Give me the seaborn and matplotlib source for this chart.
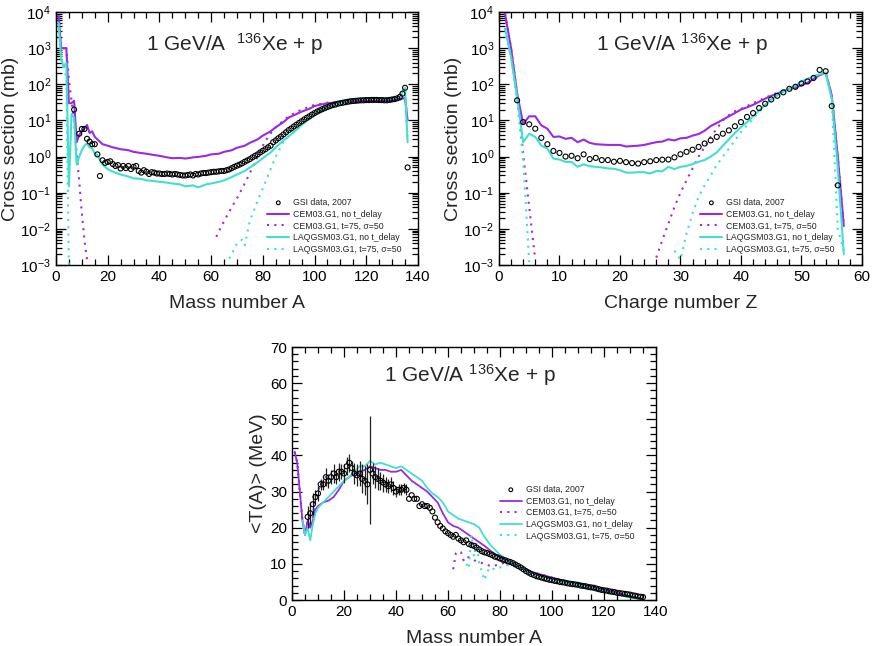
import matplotlib
matplotlib.use("Agg")
import matplotlib.pyplot as plt
from matplotlib.ticker import MultipleLocator, LogLocator, NullFormatter
import seaborn as sns

sns.set_style("ticks")
plt.rcParams['font.family'] = ['Liberation Sans', 'DejaVu Sans']
plt.rcParams['mathtext.default'] = 'regular'

PURPLE = "#9a2be2"
CYAN = "#40e0d0"
DOT = (0, (1, 2.5))

LBL_GSI = "GSI data, 2007"
LBL_CEM = "CEM03.G1, no t_delay"
LBL_CEMT = "CEM03.G1, t=75, σ=50"
LBL_LAQ = "LAQGSM03.G1, no t_delay"
LBL_LAQT = "LAQGSM03.G1, t=75, σ=50"
TITLE = "1 GeV/A $^{136}$Xe + p"
TITLE_WIDE = "1 GeV/A  $^{136}$Xe + p"

# ---------- panel 1: cross section vs mass number A ----------
a_gsi = [7, 9, 10, 11, 12, 13, 14, 15, 16, 17] + list(range(18, 137))
sig_gsi = [20, 4.3, 5.8, 5.8, 3.1, 2.6, 2.2, 2.2, 1.15, 0.29,
           0.79, 0.67, 0.71, 0.74, 0.62, 0.55, 0.58, 0.47, 0.55, 0.48,
           0.55, 0.45, 0.52, 0.55, 0.40, 0.36, 0.42, 0.38, 0.33, 0.37,
           0.36, 0.34, 0.34, 0.33, 0.33, 0.34, 0.33, 0.32, 0.33, 0.32,
           0.31, 0.30, 0.30, 0.31, 0.32, 0.30, 0.33, 0.32, 0.34, 0.35,
           0.35, 0.36, 0.37, 0.38, 0.38, 0.39, 0.40, 0.40, 0.42, 0.44,
           0.48, 0.52, 0.56, 0.60, 0.65, 0.72, 0.78, 0.85, 0.95, 1.05,
           1.15, 1.3, 1.45, 1.6, 1.8, 2.0, 2.5, 2.8, 3.2, 3.6,
           4.1, 4.7, 5.4, 6.0, 6.8, 7.6, 8.5, 9.5, 10.6, 11.8,
           13, 14.5, 16, 17.5, 19, 20.5, 22, 23.5, 25, 26.5,
           27.5, 29, 30, 31, 32, 33, 34, 34.5, 35, 35.5,
           36, 36, 36.5, 36.5, 37, 37, 37, 36.5, 36.5, 36,
           36, 37, 38, 39, 41, 45, 55, 80, 0.5]

a_grid = [1, 2, 3, 4, 5, 6, 7, 8, 9, 10, 11, 12, 13, 14, 15, 16, 18, 20, 22, 25,
          28, 30, 33, 35, 38, 40, 43, 45, 48, 50, 53, 55, 58, 60, 63, 65, 68, 70, 73, 75,
          78, 80, 83, 85, 88, 90, 93, 95, 98, 100, 103, 105, 110, 115, 120, 125, 130, 133, 135, 136]
sig_cem = [8000, 1000, 1000, 1000, 30, 30, 35, 2.5, 4, 5, 6, 7.5, 4.5, 5, 3.5, 3,
           2.2, 2, 1.8, 1.6, 1.5, 1.35,
           1.25, 1.2, 1.1, 1.05, 0.95, 0.9, 0.92, 0.88,
           0.95, 0.98, 1.05, 1.15, 1.2, 1.35, 1.5, 1.75,
           2.0, 2.4, 3.0, 3.8, 5, 6.5, 9, 12,
           15, 17.5, 21, 25, 28, 30,
           32, 34, 35, 35, 36, 38, 42, 10]
sig_laq = [5000, 500, 300, 400, 0.15, 15, 12, 0.6, 1.0, 1.5, 2.0, 2.3, 1.8, 1.7, 1.2, 1.1,
           0.6, 0.45, 0.38, 0.32, 0.28, 0.25,
           0.24, 0.22, 0.21, 0.2, 0.19, 0.18, 0.17, 0.15,
           0.16, 0.14, 0.17, 0.18, 0.2, 0.22, 0.27, 0.32,
           0.4, 0.5, 0.7, 0.9, 1.3, 1.8, 2.8, 3.6,
           5.5, 7.5, 11, 14, 20, 24,
           32, 38, 41, 41, 40, 45, 80, 2.5]

a_cemt_lo = [1, 2, 3, 4, 5, 6, 7, 8, 9, 10, 11, 12]
sig_cemt_lo = [8000, 1000, 1000, 1000, 130, 36, 10, 1.2, 0.2, 0.027, 0.005, 0.0014]
a_cemt_hi = [62, 64, 66, 68, 70, 72, 74, 76, 78, 80, 82, 84, 86, 88, 90,
             93, 95, 98, 100, 103, 105, 110, 115, 120, 125, 130, 133, 135, 136]
sig_cemt_hi = [0.006, 0.012, 0.022, 0.04, 0.07, 0.13, 0.25, 0.5, 1.0, 2.0, 3.5, 5.5, 7.5, 10, 13,
               17, 20, 24, 27, 29, 31, 33, 35, 35, 35, 36, 38, 42, 10]
a_laqt_lo = [1, 2, 3, 4, 5]
sig_laqt_lo = [5000, 500, 300, 150, 0.0008]
a_laqt_hi = [67, 68, 70, 72, 73, 75, 78, 80, 83, 85, 88, 90,
             93, 95, 98, 100, 103, 105, 110, 115, 120, 125, 130, 133, 135, 136]
sig_laqt_hi = [0.0015, 0.002, 0.004, 0.005, 0.0035, 0.017, 0.06, 0.13, 0.45, 1.0, 2.6, 3.6,
               5.5, 7.5, 11, 14, 20, 24, 32, 38, 41, 41, 40, 45, 80, 2.5]

# ---------- panel 2: cross section vs charge number Z ----------
z_gsi = list(range(3, 57))
sigz_gsi = [36, 9, 7.8, 5.9, 3.3, 2.2, 1.43, 1.26, 1.0, 1.05,
            0.9, 1.15, 0.85, 0.92, 0.8, 0.8, 0.72, 0.76, 0.7, 0.66,
            0.64, 0.7, 0.74, 0.8, 0.82, 0.83, 0.95, 1.16, 1.35, 1.55,
            1.85, 2.3, 2.8, 3.5, 4.3, 5.3, 6.9, 9, 12.5, 16,
            22, 29, 38, 48, 60, 75, 85, 105, 120, 150,
            250, 230, 25, 0.16]
z_grid = list(range(1, 58))
sigz_cem = [9000, 1000, 55, 8, 13, 13, 7.3, 5.9, 3.5, 3.6,
            3.1, 3.3, 2.5, 2.95, 2.4, 2.2, 2.15, 2.1, 2.1, 2.1,
            1.9, 1.95, 2.0, 2.1, 2.3, 2.5, 2.6, 3.0, 2.8, 3.2,
            3.3, 3.8, 4.2, 5.2, 7, 8.5, 10.5, 13, 16, 20,
            23, 27, 33, 40, 48, 55, 65, 75, 80, 95,
            110, 140, 180, 210, 50, 1, 0.012]
sigz_laq = [3500, 560, 45, 2.5, 4.3, 3.5, 2.0, 1.66, 0.88, 0.83,
            0.71, 0.71, 0.52, 0.61, 0.54, 0.52, 0.5, 0.47, 0.46, 0.42,
            0.36, 0.36, 0.37, 0.37, 0.34, 0.4, 0.39, 0.52, 0.45, 0.52,
            0.55, 0.62, 0.72, 0.8, 1.0, 1.3, 2.0, 3.0, 4.5, 6.5,
            9, 13, 19, 27, 38, 50, 62, 75, 90, 120,
            140, 165, 190, 210, 40, 0.5, 0.002]
z_cemt_lo = [1, 2, 3, 4, 5, 6]
sigz_cemt_lo = [9000, 1000, 55, 1.2, 0.04, 0.0014]
z_cemt_hi = list(range(26, 58))
sigz_cemt_hi = [0.0016, 0.0049, 0.014, 0.04, 0.1, 0.22, 0.47, 1.0, 1.85, 3.5,
                5.9, 10, 14, 18, 21, 25, 30, 36, 42, 50,
                58, 65, 75, 80, 95, 110, 140, 180, 210, 50,
                1, 0.012]
z_laqt_lo = [1, 2, 3, 4, 5]
sigz_laqt_lo = [3500, 560, 35, 0.8, 0.0012]
z_laqt_hi = list(range(29, 58))
sigz_laqt_hi = [0.0025, 0.0014, 0.0074, 0.027, 0.077, 0.16, 0.3, 0.58, 1.0, 1.66,
                2.8, 4.8, 7.3, 11, 17, 27, 38, 50, 62, 75,
                90, 120, 140, 165, 190, 210, 40, 0.01, 0.0025]

# ---------- panel 3: mean kinetic energy vs A ----------
a_t = list(range(6, 136))
t_gsi = [23, 24, 26.5, 28.5, 29.5, 32, 32, 34, 33, 34,
         35, 34, 35.5, 35.5, 35, 37, 38, 36.5, 35, 34.5,
         35, 33.5, 33, 32, 36, 35, 34, 33.5, 33, 32.5,
         32, 31.5, 32, 31, 30, 30.5, 30.5, 31, 30.5, 28,
         29, 28, 28, 26, 26.5, 26, 26, 25.5, 24.5, 22.8,
         21.5, 20.5, 19.8, 19, 18.5, 18, 17.5, 18, 17, 16.5,
         16, 16.5, 15.5, 15.2, 15, 14.5, 14, 13.5, 13.2, 13,
         12.7, 12.4, 12, 11.8, 11.5, 11.2, 11, 10.7, 10.5, 10.2,
         9.8, 9.4, 9, 8.5, 8, 7.6, 7.2, 6.9, 6.6, 6.4,
         6.2, 6, 5.8, 5.6, 5.5, 5.3, 5.2, 5.0, 4.9, 4.8,
         4.6, 4.5, 4.4, 4.3, 4.2, 4.0, 3.9, 3.8, 3.6, 3.5,
         3.4, 3.2, 3.0, 2.8, 2.7, 2.6, 2.4, 2.3, 2.2, 2.0,
         1.9, 1.8, 1.7, 1.6, 1.5, 1.3, 1.2, 1.0, 0.9, 0.8]
a_terr = list(range(6, 45))
t_err = [3, 3, 3, 2, 2, 1.5, 1.5, 2.5, 2, 2,
         2.5, 2, 2.5, 2, 2.5, 2.5, 2.5, 2, 3, 3,
         3.5, 4, 4, 5.5, 15, 3, 3, 3, 2.5, 2.5,
         2, 2, 2, 2, 1.5, 1.5, 1.5, 1.5, 1.5]

a_tcem = [1, 2, 3, 4, 5, 6, 7, 8, 9, 10] + list(range(12, 81, 2)) + \
         [84, 88, 92, 96, 100, 105, 110, 115, 120, 125, 130, 135]
t_cem = [41, 38, 30, 22, 18, 22, 20, 22, 25, 26,
         27, 27.5, 28.5, 30.5, 33, 34, 35, 35.5, 36, 37,
         36.5, 36, 36, 35.5, 35.5, 36, 34.5, 33, 32, 31,
         30, 28.5, 27, 24, 21.5, 20.5, 20, 19, 18, 17,
         16, 15, 13.8, 12.8, 11.8,
         10.5, 9, 7.8, 7, 6.2, 5.3, 4.5, 3.7, 2.8, 2, 1, 0.3]
a_tlaq = [4, 5, 6, 7, 8, 9, 10] + list(range(12, 81, 2)) + \
         [84, 88, 92, 96, 100, 105, 110, 115, 120, 125, 130, 135]
t_laq = [22, 18, 20, 16.5, 21, 24, 25.5,
         27, 28.5, 30, 31.5, 33, 34, 35.5, 37, 37, 38.5,
         37.5, 38, 37.5, 37, 36.5, 37, 36, 35, 34, 33,
         31, 29.5, 28.5, 27, 24.5, 23.5, 22.5, 22, 21.5, 21,
         20, 17.5, 15.5, 14, 12.5,
         10.5, 8.8, 7.5, 6.6, 5.8, 4.9, 4.1, 3.3, 2.4, 1.6, 0.7, 0.2]
a_tcemt_lo = [1, 2, 3, 4, 5, 6, 7, 8, 9, 10, 11, 12, 13]
t_cemt_lo = [41, 38, 30, 22, 18, 22, 20, 23, 28.5, 30, 32.5, 34, 34]
a_tcemt_hi = [62, 63, 64, 65, 66, 67, 68, 69, 70, 72, 74, 76, 78, 80, 82, 84,
              88, 92, 96, 100, 105, 110, 115, 120, 125, 130, 135]
t_cemt_hi = [8.5, 12.9, 13.5, 13.2, 11, 12, 11.8, 11.5, 11, 10.5, 10, 9.5, 9.5, 10, 10.3, 10.2,
             9, 7.8, 7, 6.2, 5.3, 4.5, 3.7, 2.8, 2, 1, 0.3]
a_tlaqt = [67, 68, 69, 70, 71, 72, 73, 74, 75, 76, 78, 80, 82, 84,
           88, 92, 96, 100, 105, 110, 115, 120, 125, 130, 135]
t_laqt = [10, 8.7, 18, 12, 16, 10, 8, 5.5, 7.5, 9, 8.5, 9, 9.5, 9.8,
          8.8, 7.5, 6.6, 5.8, 4.9, 4.1, 3.3, 2.4, 1.6, 0.7, 0.2]


def line(ax, x, y, color, dotted=False, label=None, lw=1.5):
    sns.lineplot(x=x, y=y, ax=ax, color=color, lw=lw, sort=False, estimator=None,
                 linestyle=DOT if dotted else '-', label=label, legend=False)


def points(ax, x, y):
    sns.scatterplot(x=x, y=y, ax=ax, s=13, facecolor='none', edgecolor='black',
                    linewidth=0.8, marker='o', label=LBL_GSI, legend=False, zorder=5)


def finish(ax, anchor, title, title_xy):
    ax.tick_params(which='both', direction='in', top=True, right=True,
                   labelsize=11, width=0.9, colors='black')
    ax.tick_params(which='major', length=7)
    ax.tick_params(which='minor', length=4)
    for s in ax.spines.values():
        s.set_linewidth(1.0)
        s.set_color('black')
    ax.text(title_xy[0], title_xy[1], title, transform=ax.transAxes,
            ha='center', va='center', fontsize=15)
    h, l = ax.get_legend_handles_labels()
    d = dict(zip(l, h))
    order = [LBL_GSI, LBL_CEM, LBL_CEMT, LBL_LAQ, LBL_LAQT]
    ax.legend([d[k] for k in order], order, loc='lower right', bbox_to_anchor=anchor,
              frameon=False, fontsize=6.3, handlelength=2.5, handletextpad=0.45,
              labelspacing=0.3, borderpad=0, borderaxespad=0, markerscale=0.75)


def log_axis(ax):
    ax.set_yscale('log')
    ax.set_ylim(1e-3, 1e4)
    ax.yaxis.set_major_locator(LogLocator(base=10, numticks=20))
    ax.yaxis.set_minor_locator(LogLocator(base=10, subs=[2, 3, 4, 5, 6, 7, 8, 9], numticks=20))
    ax.yaxis.set_minor_formatter(NullFormatter())
    ax.set_ylabel("Cross section (mb)", fontsize=14, labelpad=1)


fig = plt.figure(figsize=(8.72, 6.46), dpi=100)

# panel 1
ax1 = fig.add_axes([0.0642, 0.5898, 0.4151, 0.3916])
log_axis(ax1)
line(ax1, a_grid, sig_cem, PURPLE, label=LBL_CEM)
line(ax1, a_cemt_lo, sig_cemt_lo, PURPLE, dotted=True, label=LBL_CEMT)
line(ax1, a_cemt_hi, sig_cemt_hi, PURPLE, dotted=True)
line(ax1, a_grid, sig_laq, CYAN, label=LBL_LAQ)
line(ax1, a_laqt_lo, sig_laqt_lo, CYAN, dotted=True, label=LBL_LAQT)
line(ax1, a_laqt_hi, sig_laqt_hi, CYAN, dotted=True)
points(ax1, a_gsi, sig_gsi)
ax1.set_xlim(0, 140)
ax1.xaxis.set_major_locator(MultipleLocator(20))
ax1.xaxis.set_minor_locator(MultipleLocator(5))
ax1.set_xlabel("Mass number A", fontsize=14, labelpad=8)
finish(ax1, (0.955, 0.045), TITLE_WIDE, (0.495, 0.875))

# panel 2
ax2 = fig.add_axes([0.5722, 0.5898, 0.4163, 0.3916])
log_axis(ax2)
line(ax2, z_grid, sigz_cem, PURPLE, label=LBL_CEM)
line(ax2, z_cemt_lo, sigz_cemt_lo, PURPLE, dotted=True, label=LBL_CEMT)
line(ax2, z_cemt_hi, sigz_cemt_hi, PURPLE, dotted=True)
line(ax2, z_grid, sigz_laq, CYAN, label=LBL_LAQ)
line(ax2, z_laqt_lo, sigz_laqt_lo, CYAN, dotted=True, label=LBL_LAQT)
line(ax2, z_laqt_hi, sigz_laqt_hi, CYAN, dotted=True)
points(ax2, z_gsi, sigz_gsi)
ax2.set_xlim(0, 60)
ax2.xaxis.set_major_locator(MultipleLocator(10))
ax2.xaxis.set_minor_locator(MultipleLocator(2))
ax2.set_xlabel("Charge number Z", fontsize=14, labelpad=8)
finish(ax2, (0.925, 0.045), TITLE, (0.505, 0.875))

# panel 3
ax3 = fig.add_axes([0.3349, 0.0712, 0.4174, 0.3916])
ax3.errorbar(a_terr, t_gsi[:len(a_terr)], yerr=t_err, fmt='none', ecolor='#222222',
             elinewidth=0.9, zorder=4)
line(ax3, a_tcem, t_cem, PURPLE, label=LBL_CEM, lw=1.3)
line(ax3, a_tcemt_lo, t_cemt_lo, PURPLE, dotted=True, label=LBL_CEMT)
line(ax3, a_tcemt_hi, t_cemt_hi, PURPLE, dotted=True)
line(ax3, a_tlaq, t_laq, CYAN, label=LBL_LAQ, lw=1.3)
line(ax3, a_tlaqt, t_laqt, CYAN, dotted=True, label=LBL_LAQT)
points(ax3, a_t, t_gsi)
ax3.set_xlim(0, 140)
ax3.set_ylim(0, 70)
ax3.xaxis.set_major_locator(MultipleLocator(20))
ax3.xaxis.set_minor_locator(MultipleLocator(5))
ax3.yaxis.set_major_locator(MultipleLocator(10))
ax3.yaxis.set_minor_locator(MultipleLocator(2))
ax3.set_xlabel("Mass number A", fontsize=14, labelpad=8)
ax3.set_ylabel("<T(A)> (MeV)", fontsize=14, labelpad=2)
finish(ax3, (0.94, 0.235), TITLE, (0.49, 0.89))

fig.savefig("out.png", dpi=100)
